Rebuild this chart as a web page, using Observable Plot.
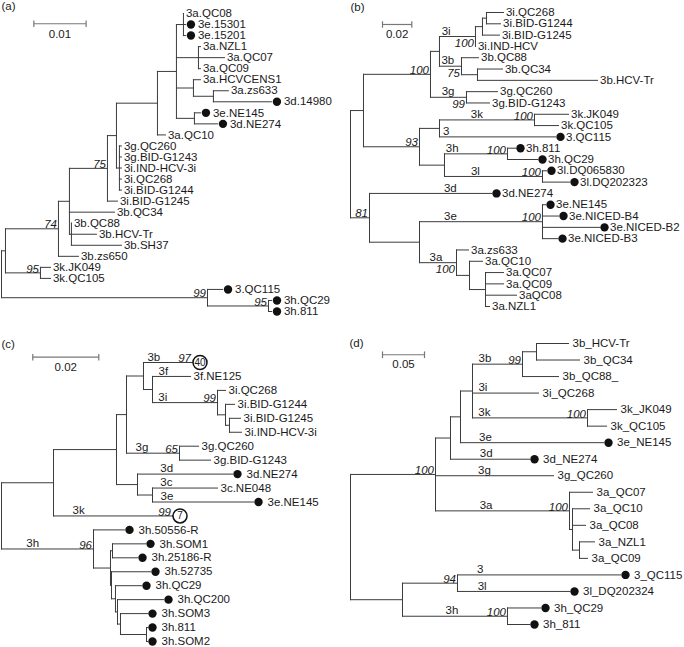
<!DOCTYPE html>
<html><head><meta charset="utf-8">
<script src="https://cdn.jsdelivr.net/npm/d3@7"></script>
<script src="https://cdn.jsdelivr.net/npm/@observablehq/plot@0.6"></script>
<style>
html,body{margin:0;padding:0;background:#fff;}
#fig{position:relative;width:684px;height:647px;overflow:hidden;background:#fff;}
.panel{position:absolute;}
</style></head><body><div id="fig"></div>
<script>
// ---------------- DATA ----------------
const panelLabels = ["(a)", "(b)", "(c)", "(d)"];
const scaleBars = [0.01, 0.02, 0.02, 0.05];

// Trees (Newick, branch lengths in substitutions/site, internal labels = bootstrap)
const newickA = "(((((((((3a.QC08:0,3e.15301:0.00038,3e.15201:0.00038):0.00134,(3a.NZL1:0.00038,3a.QC07:0.00497,3a.QC09:0.00038):0.00421,(3a.HCVCENS1:0.00134,(3a.zs633:0.00287,3d.14980:0.01109):0.00382):0.00325,(3e.NE145:0.00115,3d.NE274:0.0044):0.00344):0.00363,3a.QC10:0.00153):0.00784,(3g.QC260:0.00038,3g.BID-G1243:0.00038,3i.IND-HCV-3i:0.00038,3i.QC268:0.00038,3i.BID-G1244:0.00038):0.00057):0.00172,3i.BID-G1245:0.00191)75:0.00727,3b.QC34:0.0086,(3b.QC88:0,3b.HCV-Tr:0.00478,3b.SH37:0.00956):0.00038):0.0021,3b.zs650:0.00382)74:0.01013,(3k.JK049:0.00191,3k.QC105:0.00191)95:0.00669):0.00076,(3.QC115:0.00287,(3h.QC29:0.00057,3h.811:0.00057)95:0.01166)99:0.03939);";
const newickB = "(((((((3i.QC268:0.0116,3i.BID-G1244:0.00956):0.00273,3i.BID-G1245:0.0116):0.00478,3i.IND-HCV:0)100:0.02457,(3b.QC88:0.0116,(3b.QC34:0.01706,3b.HCV-Tr:0.08191):0.01092)75:0.01502):0.00614,(3g.QC260:0.02116,3g.BID-G1243:0.0157)99:0.02457)100:0.04573,(((3k.JK049:0.02321,3k.QC105:0.01638)100:0.06485,3.QC115:0.07918):0.01365,((3h.811:0.00546,3h.QC29:0.02048)100:0.043,(3l.DQ065830:0.00273,3l.DQ202323:0.01843)100:0.06689):0.01706)93:0.03823):0.00887,(3d.NE274:0.08328,((3e.NE145:0.00205,3e.NICED-B4:0.01092,3e.NICED-B2:0.03891,3e.NICED-B3:0.01024)100:0.08396,(3a.zs633:0.00819,(3a.QC10:0.00887,(3a.QC07:0.01229,3a.QC09:0.01229,3aQC08:0.02116,3a.NZL1:0.00273):0.01092):0.00887)100:0.02526):0.03413)81:0.01297);";
const newickC = "((((((40:0)97:0.01485,(3f.NE125:0.01152,(3i.QC268:0.00242,(3i.BID-G1244:0.00273,(3i.BID-G1245:0.00333,3i.IND-HCV-3i:0.00364):0.00121):0.00242)99:0.0197):0.00273):0.00515,(3g.QC260:0.00576,3g.BID-G1243:0.00939)65:0.01606):0.00303,(3d.NE274:0.02879,(3c.NE048:0.0197,3e.NE145:0.03061):0.00455):0.00636):0.01909,(7:0)99:0.03606):0.01576,(3h.50556-R:0.00939,((3h.SOM1:0.01,3h.25186-R:0.00758):0.00061,(3h.52735:0.01182,(3h.QC29:0.00788,(3h.QC200:0.01394,(3h.SOM3:0.00818,(3h.811:0.0003,3h.SOM2:0.0003):0.00788):0.00091):0.00061):0.00121):0.0003):0.00515)96:0.02788);";
const newickD = "(((((((3b_HCV-Tr:0.0381,3b_QC34:0.05119):0.01667,3b_QC88_:0.04286)99:0.05952,3i_QC268:0.07857,(3k_JK049:0.03452,3k_QC105:0.02262)100:0.1369):0.01429,3e_NE145:0.17024):0.0119,3d_NE274:0.09405):0.01786,3g_QC260:0.14048,(3a_QC07:0.02738,(3a_QC10:0.02024,3a_QC08:0.01548,(3a_NZL1:0.01786,3a_QC09:0.00952):0.00833):0.00357)100:0.15952)100:0.1012,((3_QC115:0.19405,3l_DQ202324:0.13333)94:0.06548,(3h_QC29:0.03929,3h_811:0.02619)100:0.125):0.0619);";

// Isolates marked with a filled circle
const dottedA = ["3e.15301","3e.15201","3d.14980","3e.NE145","3d.NE274","3.QC115","3h.QC29","3h.811"];
const dottedB = ["3.QC115","3h.811","3h.QC29","3l.DQ065830","3l.DQ202323","3d.NE274","3e.NE145","3e.NICED-B4","3e.NICED-B2","3e.NICED-B3"];
const dottedC = ["3d.NE274","3e.NE145","3h.50556-R","3h.SOM1","3h.25186-R","3h.52735","3h.QC29","3h.QC200","3h.SOM3","3h.811","3h.SOM2"];
const dottedD = ["3e_NE145","3d_NE274","3_QC115","3l_DQ202324","3h_QC29","3h_811"];

// Collapsed clades (number of sequences shown in a circle)
const collapsedC = ["40", "7"];

// Subtype labels on branches: [label, member leaves...]
const cladesA = [];
const cladesB = [["3i","3i.QC268","3i.IND-HCV"],["3b","3b.QC88","3b.HCV-Tr"],["3g","3g.QC260","3g.BID-G1243"],["3k","3k.JK049","3k.QC105"],["3","3.QC115"],["3h","3h.811","3h.QC29"],["3l","3l.DQ065830","3l.DQ202323"],["3d","3d.NE274"],["3e","3e.NE145","3e.NICED-B3"],["3a","3a.zs633","3a.NZL1"]];
const cladesC = [["3b","40"],["3f","3f.NE125"],["3i","3i.QC268","3i.IND-HCV-3i"],["3g","3g.QC260","3g.BID-G1243"],["3d","3d.NE274"],["3c","3c.NE048"],["3e","3e.NE145"],["3k","7"],["3h","3h.50556-R","3h.SOM2"]];
const cladesD = [["3b","3b_HCV-Tr","3b_QC88_"],["3i","3i_QC268"],["3k","3k_JK049","3k_QC105"],["3e","3e_NE145"],["3d","3d_NE274"],["3g","3g_QC260"],["3a","3a_QC07","3a_QC09"],["3","3_QC115"],["3l","3l_DQ202324"],["3h","3h_QC29","3h_811"]];

// ---------------- LAYOUT (drawing settings) ----------------
const FONT = "'Liberation Sans', Arial, Helvetica, sans-serif";
const INK = "#1a1a1a", LINE = "#3c3c3c", BAR = "#777";
const layouts = [
  {left:0, top:0, width:342, height:320, xRange:[1,53.3], yRange:[13,311], barAt:[0.00618,0.93], barLabelRow:1.85,
   labelD:[1,1], leafGap:2.5, dotOffset:5.5, dotLabelGap:7, fontSize:11.5, cladeFrac:{}, supportBelow:[]},
  {left:342, top:0, width:342, height:320, xRange:[8,37.3], yRange:[12,306], barAt:[0.02184,1.06], barLabelRow:1.92,
   labelD:[8,2], leafGap:2.5, dotOffset:5, dotLabelGap:5.5, fontSize:11.5,
   cladeFrac:{"3i":0.06,"3b":0.09,"3g":0.31,"3k":0.33,"3":0.03,"3h":0.02,"3l":0.27,"3d":0.61,"3e":0.2,"3a":0.27},
   supportBelow:["3i","3b","3g","3a"]},
  {left:0, top:320, width:342, height:327, xRange:[1,67], yRange:[42,321], barAt:[0.00948,-0.38], barLabelRow:0.32,
   labelD:[1,19], leafGap:3, dotOffset:5, dotLabelGap:9, fontSize:11.5,
   cladeFrac:{"3b":0.08,"3f":0.16,"3i":0.09,"3g":0.17,"3d":0.24,"3c":0.12,"3e":0.08,"3k":0.16,"3h":0.27}, supportBelow:[]},
  {left:342, top:320, width:342, height:327, xRange:[8,50], yRange:[23,304], barAt:[0.0381,0.68], barLabelRow:1.25,
   labelD:[7,18], leafGap:4, dotOffset:5, dotLabelGap:8.5, fontSize:11.5,
   cladeFrac:{"3b":0.12,"3i":0.09,"3k":0.05,"3e":0.13,"3d":0.37,"3g":0.36,"3a":0.33,"3":0.12,"3l":0.18,"3h":0.41}, supportBelow:[]}
];

const panels = [
  {newick:newickA, dotted:dottedA, collapsed:[], clades:cladesA},
  {newick:newickB, dotted:dottedB, collapsed:[], clades:cladesB},
  {newick:newickC, dotted:dottedC, collapsed:collapsedC, clades:cladesC},
  {newick:newickD, dotted:dottedD, collapsed:[], clades:cladesD}
].map((p, i) => ({...p, bar: scaleBars[i], label: panelLabels[i]}));

// ---------------- TREE HELPERS ----------------
function parseNewick(s) {
  let i = 0;
  function node() {
    const n = {children: []};
    if (s[i] === "(") {
      i++;
      n.children.push(node());
      while (s[i] === ",") { i++; n.children.push(node()); }
      i++;
    }
    let name = "";
    while (i < s.length && !",():;".includes(s[i])) name += s[i++];
    n.length = 0;
    if (s[i] === ":") {
      i++; let num = "";
      while (i < s.length && !",();".includes(s[i])) num += s[i++];
      n.length = +num;
    }
    if (n.children.length) n.support = name; else n.name = name;
    n.children.forEach(c => c.parent = n);
    return n;
  }
  return node();
}
function lca(a, b) {
  const anc = new Set();
  for (let n = a; n; n = n.parent) anc.add(n);
  for (let n = b; n; n = n.parent) if (anc.has(n)) return n;
  return a;
}

function buildPanel(p, L) {
  const root = parseNewick(p.newick);
  const nodes = []; let row = 0;
  (function walk(n, x) {
    n.x = x; nodes.push(n);
    if (!n.children.length) n.y = row++;
    else {
      n.children.forEach(c => walk(c, x + c.length));
      n.y = (n.children[0].y + n.children[n.children.length - 1].y) / 2;
    }
  })(root, 0);
  const leaves = nodes.filter(n => !n.children.length);
  const byName = new Map(leaves.map(n => [n.name, n]));
  const hSeg = nodes.filter(n => n.parent).map(n => ({x1: n.parent.x, x2: n.x, y: n.y}));
  const vSeg = nodes.filter(n => n.children.length > 1)
    .map(n => ({x: n.x, y1: n.children[0].y, y2: n.children[n.children.length - 1].y}));
  const dotted = new Set(p.dotted), collapsed = new Set(p.collapsed);
  const plainLeaves = leaves.filter(n => !dotted.has(n.name) && !collapsed.has(n.name));
  const dotLeaves = leaves.filter(n => dotted.has(n.name));
  const circLeaves = leaves.filter(n => collapsed.has(n.name));
  const cladeOf = new Map();
  const cladeLabels = p.clades.map(([label, ...names]) => {
    let n = names.length > 1 ? lca(byName.get(names[0]), byName.get(names[1])) : byName.get(names[0]);
    while (n.parent && n.parent.children.length === 1) n = n.parent;
    cladeOf.set(n, label);
    const f = L.cladeFrac[label] ?? 0.1;
    return {label, x: n.parent.x + f * (n.x - n.parent.x), y: n.y};
  });
  const supports = nodes.filter(n => n.children.length && n.support)
    .map(n => ({x: n.x, y: n.y, text: n.support, below: L.supportBelow.includes(cladeOf.get(n))}));
  const rowPx = (L.yRange[1] - L.yRange[0]) / (row - 1);
  const t = 3.3 / rowPx;
  const bar = {x1: L.barAt[0], x2: L.barAt[0] + p.bar, y: L.barAt[1], ly: L.barLabelRow, text: String(p.bar)};
  const barEnds = [{x: bar.x1}, {x: bar.x2}];

  return Plot.plot({
    width: L.width, height: L.height, margin: 0,
    x: {domain: [0, p.bar], range: L.xRange, axis: null},
    y: {domain: [0, row - 1], range: L.yRange, axis: null},
    style: {fontFamily: FONT, fontSize: L.fontSize + "px", color: INK, background: "white", overflow: "visible"},
    marks: [
      // branches
      Plot.link(hSeg, {x1: "x1", x2: "x2", y1: "y", y2: "y", stroke: LINE, strokeWidth: 1, strokeLinecap: "square"}),
      Plot.link(vSeg, {x1: "x", x2: "x", y1: "y1", y2: "y2", stroke: LINE, strokeWidth: 1, strokeLinecap: "square"}),
      // scale bar
      Plot.link([bar], {x1: "x1", x2: "x2", y1: "y", y2: "y", stroke: BAR, strokeWidth: 1.2}),
      Plot.link(barEnds, {x1: "x", x2: "x", y1: () => bar.y - t, y2: () => bar.y + t, stroke: BAR, strokeWidth: 1.2}),
      Plot.text([bar], {x: d => (d.x1 + d.x2) / 2, y: "ly", text: "text", textAnchor: "middle", fill: INK}),
      // leaves
      Plot.text(plainLeaves, {x: "x", y: "y", text: "name", textAnchor: "start", dx: L.leafGap, fill: INK}),
      Plot.dot(dotLeaves, {x: "x", y: "y", r: 4.2, fill: "#111", dx: L.dotOffset}),
      Plot.text(dotLeaves, {x: "x", y: "y", text: "name", textAnchor: "start", dx: L.dotOffset + L.dotLabelGap, fill: INK}),
      Plot.dot(circLeaves, {x: "x", y: "y", r: 7, fill: "white", stroke: "#111", strokeWidth: 1.5, dx: 7.5}),
      Plot.text(circLeaves, {x: "x", y: "y", text: "name", textAnchor: "middle", dx: 7.5, fontSize: 10, fill: INK}),
      // subtype labels
      Plot.text(cladeLabels, {x: "x", y: "y", text: "label", textAnchor: "start", dy: -5.5, fill: INK}),
      // bootstrap values
      Plot.text(supports.filter(d => !d.below), {x: "x", y: "y", text: "text", textAnchor: "end", dx: -1.5, dy: -4, fontStyle: "italic", fill: INK}),
      Plot.text(supports.filter(d => d.below), {x: "x", y: "y", text: "text", textAnchor: "end", dx: -1.5, dy: 7, fontStyle: "italic", fill: INK}),
      // panel letter
      Plot.text([p.label], {text: d => d, frameAnchor: "top-left", dx: L.labelD[0], dy: L.labelD[1], fill: INK})
    ]
  });
}

const fig = document.getElementById("fig");
panels.forEach((p, i) => {
  const L = layouts[i];
  const div = document.createElement("div");
  div.className = "panel";
  div.style.left = L.left + "px";
  div.style.top = L.top + "px";
  div.appendChild(buildPanel(p, L));
  fig.appendChild(div);
});
</script>
</body></html>
